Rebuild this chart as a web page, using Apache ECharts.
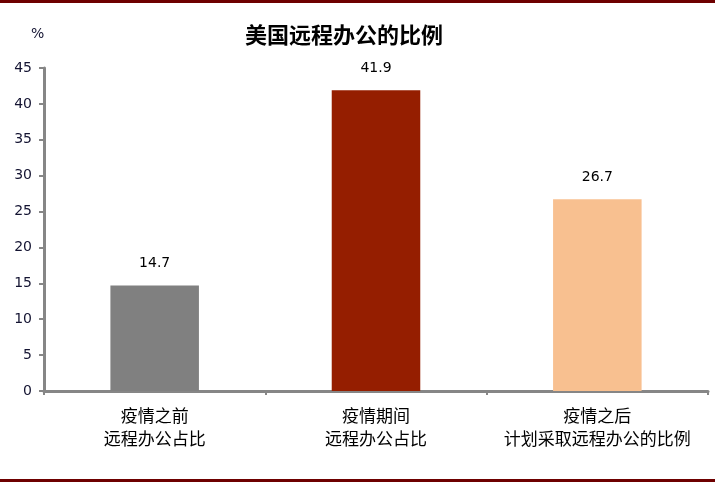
<!DOCTYPE html>
<html><head><meta charset="utf-8">
<script src="https://cdn.jsdelivr.net/npm/echarts@6/dist/echarts.min.js"></script>
<style>html,body{margin:0;padding:0;background:#fff}#c{width:715px;height:483px}</style>
</head><body><div id="c"></div>
<script>
const categories = ['疫情之前\n远程办公占比', '疫情期间\n远程办公占比', '疫情之后\n计划采取远程办公的比例'];
const values = [14.7, 41.9, 26.7];
const barColors = ['#808080', '#951E00', '#F8C090'];
const yTicks = {min: 0, max: 45, interval: 5};

const chart = echarts.init(document.getElementById('c'));
chart.setOption({
  animation: false,
  title: {
    text: '美国远程办公的比例', left: 339, top: 19, textAlign: 'center',
    textStyle: {fontFamily: 'Noto Sans CJK SC', fontSize: 22, fontWeight: 'bold', color: '#000'}
  },
  graphic: [
    {type: 'rect', shape: {x: 0, y: 0, width: 715, height: 3}, style: {fill: '#6E0000'}},
    {type: 'rect', shape: {x: 0, y: 479, width: 715, height: 3}, style: {fill: '#6E0000'}},
    {type: 'text', left: 31, top: 27, style: {text: '%', fontFamily: 'DejaVu Sans', fontSize: 14, fill: '#141432'}}
  ],
  grid: {left: 44, right: 7, top: 68, bottom: 92, containLabel: false},
  xAxis: {
    type: 'category', data: categories,
    axisLine: {lineStyle: {color: '#868686', width: 3}},
    axisTick: {show: true, length: 4, lineStyle: {color: '#868686', width: 2}},
    axisLabel: {fontFamily: 'Noto Sans CJK SC', fontSize: 17, color: '#000', lineHeight: 23, margin: 13, interval: 0}
  },
  yAxis: {
    type: 'value', min: yTicks.min, max: yTicks.max, interval: yTicks.interval,
    splitLine: {show: false},
    axisLine: {show: true, lineStyle: {color: '#868686', width: 3}},
    axisTick: {show: true, length: 5, lineStyle: {color: '#868686', width: 2}},
    axisLabel: {fontFamily: 'DejaVu Sans', fontSize: 14, color: '#141432', margin: 12}
  },
  series: [{
    type: 'bar', barWidth: '40%',
    data: values.map((v, i) => ({value: v, itemStyle: {color: barColors[i]}})),
    label: {show: true, position: 'top', distance: 15, fontFamily: 'DejaVu Sans', fontSize: 14, color: '#000'}
  }]
});
</script></body></html>
